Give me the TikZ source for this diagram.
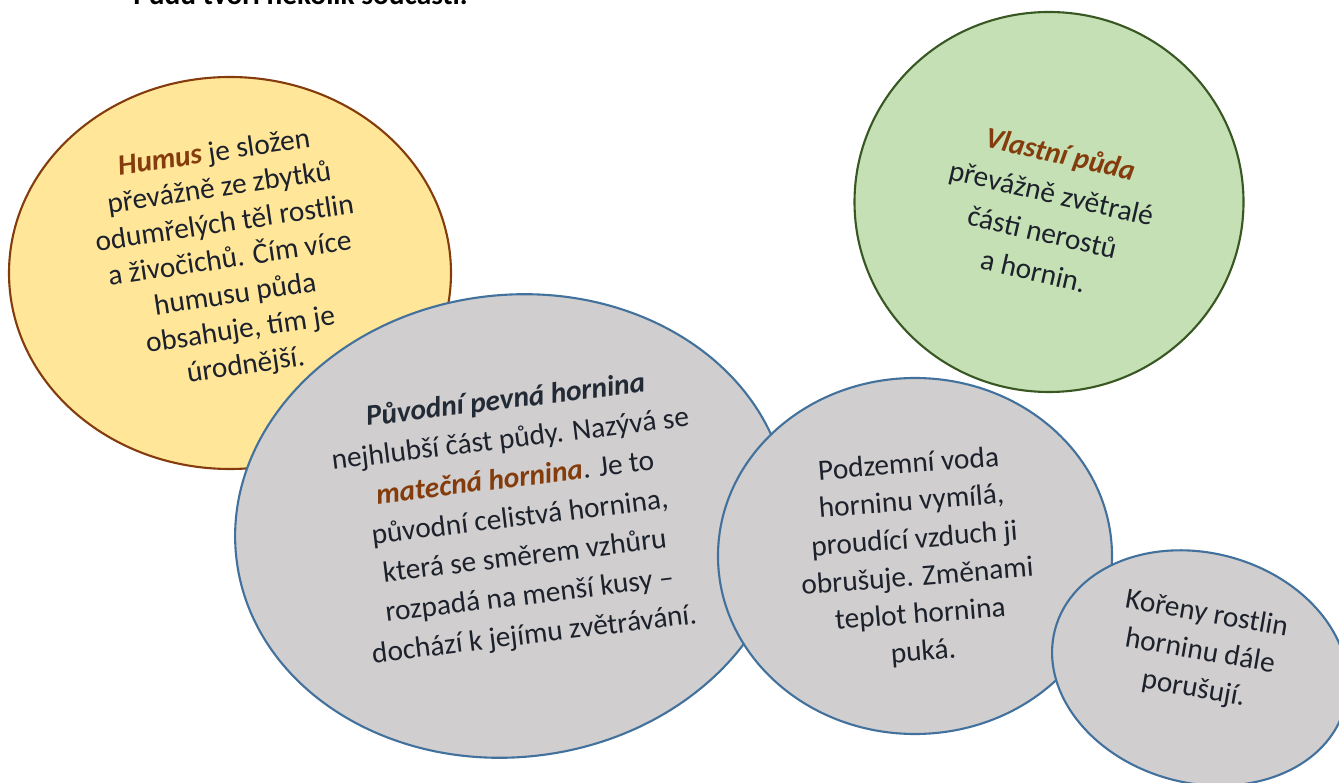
\documentclass[tikz,border=0pt]{standalone}
\usepackage{fontspec}
\setmainfont{Carlito}
\usetikzlibrary{shapes.geometric}
\newcommand{\px}{0.02cm}
\newcommand{\rim}{1.2pt}
\newcommand{\keyword}[1]{\textbf{\textit{\color{accent}#1}}}
\definecolor{humusfill}{HTML}{FFE699}
\definecolor{humusrim}{HTML}{843C0C}
\definecolor{soilfill}{HTML}{C5E0B4}
\definecolor{soilrim}{HTML}{385723}
\definecolor{rockfill}{HTML}{D0CECE}
\definecolor{rockrim}{HTML}{41719C}
\definecolor{accent}{HTML}{843C0C}
\definecolor{ink}{HTML}{1C212B}
\definecolor{heading}{HTML}{222A35}

\begin{document}
\begin{tikzpicture}[x=\px, y=-\px,
    bubble/.style={ellipse, draw, line width=\rim, inner sep=0pt},
    words/.style={align=center, inner sep=0pt, text=ink, font=\fontsize{16.7}{#1}\selectfont},
    words/.default=21.6]

        \useasboundingbox (0,0) rectangle (1339,783);

        \node (title) at (133,5) [anchor=base west, inner sep=0pt, text=black, font=\fontsize{16.7}{20}\selectfont\bfseries] {Půdu tvoří několik součástí.};

        % humus
        \node (humus) at (230,273) [bubble, draw=humusrim, fill=humusfill, minimum width=442*\px, minimum height=392*\px] {};
        \node (humustext) at (230,260) [words=20.4, rotate=8.5]
          {\keyword{Humus} je složen\\ převážně ze zbytků\\ odumřelých těl rostlin\\ a živočichů. Čím více\\ humusu půda\\ obsahuje, tím je\\ úrodnější.};

        % vlastni puda
        \node (soil) at (1049,202) [bubble, draw=soilrim, fill=soilfill, minimum width=389*\px, minimum height=380*\px] {};
        \node (soiltext) at (1047,212) [words=22.8, rotate=-13]
          {\keyword{Vlastní půda}\\ převážně zvětralé\\ části nerostů\\ a hornin.};

        % matecna hornina
        \node (bedrock) at (512,526) [bubble, draw=rockrim, fill=rockfill, minimum width=555*\px, minimum height=462*\px, rotate=7] {};
        \node (bedrocktext) at (520,518) [words=22.4, rotate=7]
          {\textbf{\textit{\color{heading}Původní pevná hornina}}\\ nejhlubší část půdy. Nazývá se\\ \keyword{matečná hornina}. Je to\\ původní celistvá hornina,\\ která se směrem vzhůru\\ rozpadá na menší kusy –\\ dochází k jejímu zvětrávání.};

        % voda a vzduch
        \node (water) at (915,556) [bubble, draw=rockrim, fill=rockfill, minimum width=394*\px, minimum height=356*\px] {};
        \node (watertext) at (916,559) [words=21.4, rotate=4.5]
          {Podzemní voda\\ horninu vymílá,\\ proudící vzduch ji\\ obrušuje. Změnami\\ teplot hornina\\ puká.};

        % koreny
        \node (roots) at (1200,668) [bubble, draw=rockrim, fill=rockfill, minimum width=300*\px, minimum height=230*\px, rotate=-15] {};
        \node (rootstext) at (1200,652) [words=21.6, rotate=-10]
          {Kořeny rostlin\\ horninu dále\\ porušují.};

\end{tikzpicture}
\end{document}
